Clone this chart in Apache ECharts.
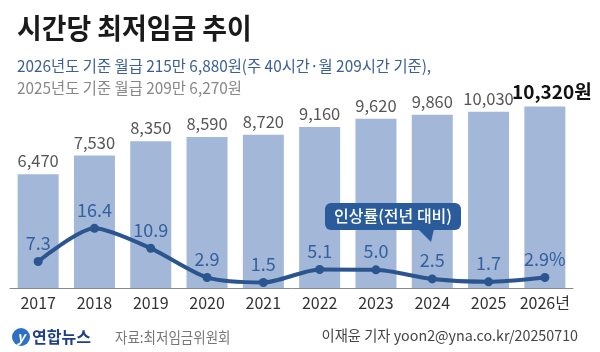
<!DOCTYPE html>
<html>
<head>
<meta charset="utf-8">
<script src="https://cdn.jsdelivr.net/npm/echarts@6/dist/echarts.min.js"></script>
<style>
  html, body { margin: 0; padding: 0; background: #fff; }
  #chart { width: 600px; height: 352px; }
</style>
</head>
<body>
<div id="chart"></div>
<script>
// 시간당 최저임금 (원)
const years = ['2017', '2018', '2019', '2020', '2021', '2022', '2023', '2024', '2025', '2026년'];
const wages = [6470, 7530, 8350, 8590, 8720, 9160, 9620, 9860, 10030, 10320];
// 인상률 (전년 대비, %)
const rates = [7.3, 16.4, 10.9, 2.9, 1.5, 5.1, 5.0, 2.5, 1.7, 2.9];

const FONT = '"Noto Sans CJK KR", "Noto Sans", sans-serif';
const last = wages.length - 1;

const chart = echarts.init(document.getElementById('chart'));

chart.setOption({
  backgroundColor: '#fff',
  animation: false,
  textStyle: { fontFamily: FONT },
  grid: { left: 10, right: 27, top: 77, bottom: 64 },
  xAxis: {
    type: 'category',
    data: years,
    axisTick: { show: false },
    axisLine: { lineStyle: { color: '#8a8a8a', width: 1 } },
    axisLabel: { interval: 0, color: '#333', fontSize: 16, margin: 7, fontFamily: FONT }
  },
  yAxis: [
    { type: 'value', min: 0, max: 12000, show: false },
    { type: 'value', min: 0, max: 58, show: false }
  ],
  series: [
    {
      type: 'bar',
      data: wages,
      barWidth: 41,
      itemStyle: { color: '#a3b7d8' },
      label: {
        show: true,
        position: 'top',
        distance: 5,
        fontSize: 16.5,
        color: '#555',
        fontFamily: FONT,
        formatter: p => p.dataIndex === last
          ? '{b|' + p.value.toLocaleString('en-US') + '원}'
          : p.value.toLocaleString('en-US'),
        rich: { b: { fontSize: 19, fontWeight: 'bold', color: '#111', fontFamily: FONT, padding: [0, 0, 0, 14] } }
      },
      z: 1
    },
    {
      type: 'line',
      yAxisIndex: 1,
      data: rates,
      smooth: 0.25,
      symbol: 'circle',
      symbolSize: 9,
      lineStyle: { color: '#2a558f', width: 4 },
      itemStyle: { color: '#2a558f' },
      label: {
        show: true,
        position: 'top',
        distance: 5,
        fontSize: 18,
        color: '#33609f',
        fontFamily: FONT,
        formatter: p => p.dataIndex === last ? p.value.toFixed(1) + '%' : p.value.toFixed(1)
      },
      z: 3
    }
  ],
  graphic: [
    {
      type: 'text', x: 17, y: 14, scaleX: 0.96,
      style: { text: '시간당 최저임금 추이', fontSize: 28, fontWeight: 'bold', fill: '#1a1a1a', fontFamily: FONT }
    },
    {
      type: 'text', x: 17, y: 58, scaleX: 0.96,
      style: { text: '2026년도 기준 월급 215만 6,880원(주 40시간·월 209시간 기준),', fontSize: 16, fill: '#3c5f96', fontFamily: FONT }
    },
    {
      type: 'text', x: 17, y: 80, scaleX: 0.96,
      style: { text: '2025년도 기준 월급 209만 6,270원', fontSize: 16, fill: '#888', fontFamily: FONT }
    },
    // callout
    {
      type: 'rect', shape: { x: 325, y: 203, width: 136, height: 27, r: 6 },
      style: { fill: '#2a5b9b' }, z: 10
    },
    {
      type: 'polygon', shape: { points: [[418, 229], [434, 229], [431, 242]] },
      style: { fill: '#2a5b9b' }, z: 10
    },
    {
      type: 'text', x: 393, y: 216, z: 11,
      style: { text: '인상률(전년 대비)', fontSize: 16, fontWeight: 500, fill: '#fff', align: 'center', verticalAlign: 'middle', fontFamily: FONT }
    },
    // footer logo
    {
      type: 'circle', shape: { cx: 21, cy: 337, r: 9 },
      style: { fill: '#2f6fc4' }
    },
    {
      type: 'text', x: 21, y: 337,
      style: { text: 'y', fontSize: 14, fontStyle: 'italic', fontWeight: 'bold', fill: '#fff', align: 'center', verticalAlign: 'middle', fontFamily: FONT }
    },
    {
      type: 'text', x: 32, y: 337,
      style: { text: '연합뉴스', fontSize: 16, fontWeight: 'bold', fill: '#1e3f86', verticalAlign: 'middle', fontFamily: FONT }
    },
    {
      type: 'text', x: 115, y: 337, scaleX: 0.9,
      style: { text: '자료:최저임금위원회', fontSize: 15, fill: '#777', verticalAlign: 'middle', fontFamily: FONT }
    },
    {
      type: 'text', x: 578, y: 336,
      style: { text: '이재윤 기자 yoon2@yna.co.kr/20250710', fontSize: 14.3, fill: '#444', align: 'right', verticalAlign: 'middle', fontFamily: FONT }
    }
  ]
});
</script>
</body>
</html>
